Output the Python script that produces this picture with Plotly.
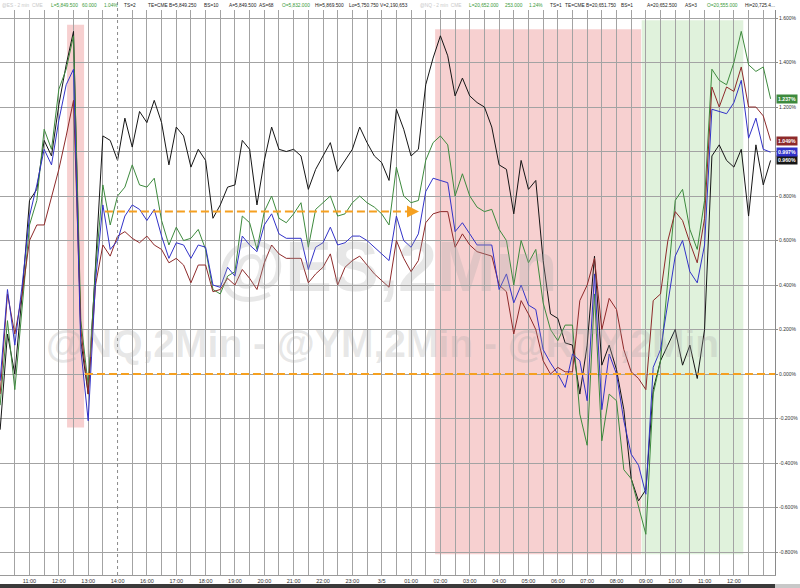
import plotly.graph_objects as go

# ---------------- data ----------------
slot_labels = ["11:00", "12:00", "13:00", "14:00", "16:00", "17:00", "18:00", "19:00",
               "20:00", "21:00", "22:00", "23:00", "3/5", "01:00", "02:00", "03:00",
               "04:00", "05:00", "06:00", "07:00", "08:00", "09:00", "10:00", "11:00", "12:00"]
slot_positions = list(range(len(slot_labels)))

SESSION_START = -1.0   # first sampled bar, in hourly slots
BAR_STEP = 0.25        # 15-minute sampling

ym_black = [-0.25, 0.18, 0.00, 0.36, 0.78, 0.83, 1.05, 0.98, 1.21, 1.39,
            1.54, 0.15, -0.09, 0.49, 1.07, 1.05, 0.96, 1.15, 1.02, 1.18,
            1.13, 1.23, 1.13, 0.94, 1.11, 1.07, 0.93, 1.01, 0.96, 0.70,
            0.76, 0.84, 0.85, 1.05, 1.01, 0.76, 0.96, 1.11, 1.01, 1.00,
            1.01, 0.98, 0.83, 0.92, 0.98, 1.04, 0.91, 0.96, 1.01, 1.11,
            1.04, 0.98, 0.95, 0.87, 1.19, 1.10, 0.98, 1.01, 1.30, 1.42,
            1.52, 1.43, 1.25, 1.33, 1.25, 1.22, 1.20, 1.11, 0.94, 0.92,
            0.72, 0.96, 0.83, 0.87, 0.51, 0.27, 0.25, 0.14, 0.13, -0.09,
            0.13, 0.53, 0.04, 0.13, 0.02, -0.16, -0.47, -0.57, -0.52, -0.07,
            0.06, 0.13, 0.20, 0.04, 0.13, -0.02, 0.20, 0.98, 1.03, 0.96,
            0.93, 1.01, 0.71, 1.03, 0.85, 0.960]

nq_green = [-0.14, 0.24, -0.07, 0.29, 0.67, 0.78, 1.10, 1.01, 1.28, 1.37,
            1.52, 0.24, -0.05, 0.47, 0.85, 0.67, 0.80, 0.84, 0.94, 0.85,
            0.84, 0.88, 0.69, 0.58, 0.66, 0.60, 0.61, 0.65, 0.56, 0.38,
            0.36, 0.44, 0.46, 0.71, 0.68, 0.56, 0.73, 0.80, 0.70, 0.68,
            0.72, 0.77, 0.57, 0.74, 0.77, 0.80, 0.71, 0.72, 0.77, 0.80,
            0.77, 0.75, 0.72, 0.67, 0.93, 0.80, 0.77, 0.78, 0.96, 1.04,
            1.07, 1.03, 0.80, 0.90, 0.80, 0.75, 0.73, 0.74, 0.65, 0.60,
            0.40, 0.60, 0.50, 0.56, 0.32, 0.20, 0.15, 0.22, 0.22, -0.18,
            -0.32, 0.36, -0.30, -0.09, -0.12, -0.43, -0.47, -0.59, -0.72, -0.09,
            0.06, 0.42, 0.78, 0.83, 0.65, 0.56, 0.78, 1.37, 1.32, 1.30,
            1.40, 1.54, 1.39, 1.36, 1.38, 1.237]

rty_blue = [-0.03, 0.38, 0.13, 0.40, 0.71, 0.85, 1.01, 0.94, 1.14, 1.30,
            1.37, 0.11, -0.21, 0.42, 0.76, 0.56, 0.60, 0.71, 0.76, 0.74,
            0.69, 0.74, 0.62, 0.52, 0.59, 0.58, 0.52, 0.58, 0.57, 0.40,
            0.39, 0.48, 0.44, 0.62, 0.58, 0.55, 0.67, 0.72, 0.63, 0.61,
            0.61, 0.61, 0.47, 0.57, 0.59, 0.66, 0.58, 0.59, 0.62, 0.62,
            0.60, 0.57, 0.54, 0.51, 0.71, 0.60, 0.57, 0.63, 0.82, 0.88,
            0.87, 0.86, 0.64, 0.68, 0.63, 0.58, 0.58, 0.58, 0.38, 0.45,
            0.32, 0.40, 0.31, 0.29, 0.11, 0.05, 0.00, -0.06, 0.09, 0.06,
            -0.12, 0.45, -0.16, 0.09, 0.00, -0.21, -0.36, -0.41, -0.54, 0.03,
            0.11, 0.32, 0.53, 0.60, 0.46, 0.41, 0.58, 1.19, 1.18, 1.17,
            1.22, 1.32, 1.06, 1.15, 1.01, 0.997]

es_red = [-0.09, 0.36, 0.18, 0.36, 0.60, 0.67, 0.67, 0.80, 0.92, 1.07,
          1.23, 0.20, -0.09, 0.40, 0.58, 0.53, 0.62, 0.64, 0.61, 0.59,
          0.62, 0.58, 0.56, 0.50, 0.52, 0.49, 0.41, 0.49, 0.49, 0.37,
          0.38, 0.43, 0.40, 0.47, 0.43, 0.38, 0.50, 0.58, 0.54, 0.52,
          0.52, 0.52, 0.41, 0.45, 0.48, 0.54, 0.40, 0.48, 0.51, 0.53,
          0.49, 0.45, 0.42, 0.39, 0.60, 0.52, 0.46, 0.51, 0.68, 0.72,
          0.73, 0.73, 0.57, 0.63, 0.58, 0.55, 0.54, 0.53, 0.40, 0.37,
          0.18, 0.33, 0.27, 0.20, 0.06, 0.00, 0.03, 0.01, 0.01, 0.33,
          0.40, 0.52, 0.20, 0.34, 0.29, 0.11, 0.01, -0.02, -0.07, 0.33,
          0.36, 0.60, 0.73, 0.69, 0.59, 0.50, 0.70, 1.29, 1.20, 1.29,
          1.27, 1.38, 1.20, 1.20, 1.16, 1.049]

y_tick_values = [-0.8, -0.6, -0.4, -0.2, 0.0, 0.2, 0.4, 0.6, 0.8, 1.0, 1.2, 1.4, 1.6]

# shaded periods: (fill, x0, x1, y0, y1) in slots / percent
shade_periods = [
    ("#f7d0d0", 1.28, 1.86, -0.24, 1.57),
    ("#f7d0d0", 13.82, 20.84, -0.81, 1.55),
    ("#e0f2dc", 20.86, 24.32, -0.81, 1.59),
]
arrow_level = 0.73
arrow_from, arrow_to = 2.57, 13.27
zero_from = 1.89

header_items = [
    ("@ES - 2 min  CME", 0, "#c8c8c8"), ("L=5,849.500", 49, "#3a9a3a"), ("60.000", 80, "#3a9a3a"),
    ("1.04%", 102, "#3a9a3a"), ("TS=2", 122, "#222"), ("TE=CME", 146, "#222"),
    ("B=5,849.250", 167, "#222"), ("BS=10", 202, "#222"), ("A=5,849.500", 227, "#222"),
    ("AS=68", 257, "#222"), ("O=5,832.000", 280, "#3a9a3a"), ("Hi=5,869.500", 313, "#222"),
    ("Lo=5,750.750", 347, "#222"), ("V=2,190,653", 378, "#222"),
    ("@NQ - 2 min  CME", 418, "#c8c8c8"), ("L=20,652.000", 467, "#3a9a3a"), ("253.000", 503, "#3a9a3a"),
    ("1.24%", 527, "#3a9a3a"), ("TS=1", 548, "#222"), ("TE=CME", 563, "#222"),
    ("B=20,651.750", 584, "#222"), ("BS=1", 619, "#222"), ("A=20,652.500", 645, "#222"),
    ("AS=3", 683, "#222"), ("O=20,555.000", 705, "#3a9a3a"), ("Hi=20,725.4...", 743, "#222"),
]

# ---------------- figure ----------------
bar_slot = [SESSION_START + i * BAR_STEP for i in range(len(ym_black))]

series = [
    ("YM", ym_black, "#151515"),
    ("NQ", nq_green, "#3d8a3d"),
    ("ES", es_red, "#8e2a2a"),
    ("RTY", rty_blue, "#3232c8"),
]

fig = go.Figure()
for name, vals, col in series:
    fig.add_trace(go.Scatter(x=bar_slot, y=vals, mode="lines", name=name,
                             line=dict(color=col, width=1), showlegend=False,
                             hoverinfo="skip"))

X_RANGE = [-1.005, 25.40]
Y_RANGE = [-0.903, 1.636]
PLOT_W = 775
PLOT_H = 565

shapes = []
for fill, x0, x1, y0, y1 in shade_periods:
    shapes.append(dict(type="rect", xref="x", yref="y", x0=x0, x1=x1, y0=y0, y1=y1,
                       fillcolor=fill, line=dict(width=0), layer="below"))
# session break dotted line
shapes.append(dict(type="line", xref="x", yref="paper", x0=3, x1=3, y0=0, y1=1.03,
                   line=dict(color="#8a8a8a", width=1, dash="dot")))
# orange dashed lines
shapes.append(dict(type="line", xref="x", yref="y", x0=arrow_from, x1=arrow_to - 0.3,
                   y0=arrow_level, y1=arrow_level,
                   line=dict(color="#f5a020", width=2, dash="8px,4px")))
shapes.append(dict(type="line", xref="x", yref="y", x0=zero_from, x1=X_RANGE[1],
                   y0=0, y1=0, line=dict(color="#f5a020", width=2, dash="8px,4px")))
# bottom scrollbar strip
shapes.append(dict(type="rect", xref="paper", yref="paper", x0=0, x1=1.0,
                   y0=-9 / PLOT_H, y1=-13 / PLOT_H, fillcolor="#3a3a3a", line=dict(width=0)))
shapes.append(dict(type="rect", xref="paper", yref="paper", x0=1.0, x1=800 / PLOT_W,
                   y0=-9 / PLOT_H, y1=-13 / PLOT_H, fillcolor="#c8c8c8", line=dict(width=0)))

annotations = []
# watermarks
annotations.append(dict(text="@ES,2Min", xref="paper", yref="paper", x=0.50, y=0.545,
                        showarrow=False, font=dict(size=70, color="rgba(170,170,170,0.28)",
                                                   family="Liberation Sans, Arial", weight="bold")))
annotations.append(dict(text="@NQ,2Min - @YM,2Min - @RTY,2Min", xref="paper", yref="paper",
                        x=0.494, y=0.41, showarrow=False,
                        font=dict(size=39, color="rgba(170,170,170,0.28)",
                                  family="Liberation Sans, Arial", weight="bold")))
# arrow head
annotations.append(dict(x=arrow_to, y=arrow_level, xref="x", yref="y", ax=-12, ay=0,
                        text="", showarrow=True, arrowhead=2, arrowsize=1.2, arrowwidth=2,
                        arrowcolor="#f5a020"))
# header
for txt, px, col in header_items:
    annotations.append(dict(text=txt, xref="paper", yref="paper",
                            x=px / PLOT_W, y=1 + 4.5 / PLOT_H, xanchor="left", yanchor="middle",
                            showarrow=False,
                            font=dict(size=4.8, color=col, family="Liberation Sans, Arial")))
# last value tags
for name, vals, col in series:
    last = vals[-1]
    annotations.append(dict(text="<b>%.3f%%</b>" % last, xref="paper", yref="y",
                            x=1.0 + 1 / PLOT_W, y=last, xanchor="left", yanchor="middle",
                            showarrow=False, bgcolor=col, borderpad=1,
                            font=dict(size=5.2, color="white", family="Liberation Sans, Arial")))

# the 1.000% label is hidden behind the value tags in the reference
y_tick_text = ["" if abs(v - 1.0) < 1e-9 else "%.3f%%" % v for v in y_tick_values]

minor_vals = [k * 0.5 for k in range(-2, 52) if k * 0.5 != 3]

fig.update_layout(
    width=800, height=588,
    margin=dict(l=0, r=25, t=10, b=13, pad=0),
    plot_bgcolor="white", paper_bgcolor="white",
    shapes=shapes, annotations=annotations,
    showlegend=False, hovermode=False,
    font=dict(family="Liberation Sans, Arial", color="#333"),
    xaxis=dict(range=X_RANGE, tickmode="array", tickvals=slot_positions, ticktext=slot_labels,
               showgrid=False, zeroline=False, showline=True, linecolor="#9a9a9a",
               ticks="", tickfont=dict(size=5.5, color="#333"), automargin=False,
               minor=dict(tickmode="array", tickvals=minor_vals, showgrid=True,
                          gridcolor="#a3a3a3", gridwidth=1, ticks="")),
    yaxis=dict(range=Y_RANGE, side="right", tickmode="array", tickvals=y_tick_values,
               ticktext=y_tick_text, showgrid=True, gridcolor="#a3a3a3", gridwidth=1,
               zeroline=False, showline=True, linecolor="#8a8a8a", ticks="outside",
               ticklen=2, tickcolor="#8a8a8a", tickfont=dict(size=5, color="#333"),
               automargin=False),
)

fig.write_html("out.html", config={"displayModeBar": False},
               post_script="document.body.style.margin='0';document.body.style.overflow='hidden';")
